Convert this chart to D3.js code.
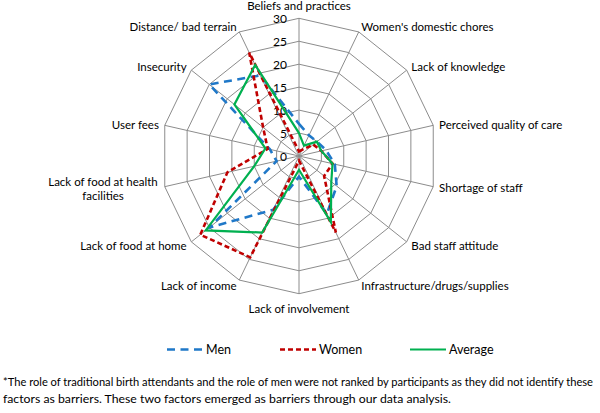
<!DOCTYPE html>
<html>
<head>
<meta charset="utf-8">
<script src="https://cdnjs.cloudflare.com/ajax/libs/d3/7.8.5/d3.min.js"></script>
<style>
  html, body { margin: 0; padding: 0; background: #fff; }
  svg { display: block; }
  text { font-family: Lato, "Noto Sans", sans-serif; fill: #000; }
</style>
</head>
<body>
<svg id="chart" width="600" height="413"></svg>
<script>
const categories = [
  "Beliefs and practices", "Women's domestic chores", "Lack of knowledge",
  "Perceived quality of care", "Shortage of staff", "Bad staff attitude",
  "Infrastructure/drugs/supplies", "Lack of involvement", "Lack of income",
  "Lack of food at home", "Lack of food at health facilities", "User fees",
  "Insecurity", "Distance/ bad terrain"
];
const men     = [7, 5, 5, 6, 8, 10.5, 14, 4.5, 13, 25, 5, 6.5, 25, 19.5];
const women   = [1, 1.5, 4, 5, 7.5, 7, 18.5, 1, 24.5, 27.5, 16, 7, 10, 25];
const average = [5, 2.5, 5, 5, 7.5, 9, 16, 3, 18.5, 26, 10, 7.5, 18, 22];
const tickValues = [0, 5, 10, 15, 20, 25, 30];
const seriesNames = ["Men", "Women", "Average"];
const footnote = [
  "*The role of traditional birth attendants and the role of men were not ranked by participants as they did not identify these",
  "factors as barriers. These two factors emerged as barriers through our data analysis."
];

const svg = d3.select("#chart");
const cx = 299, cy = 156, R = 137.7;
const n = categories.length;
const r = d3.scaleLinear().domain([0, 30]).range([0, R]);
const angle = d3.scaleLinear().domain([0, n]).range([0, 2 * Math.PI]);
const pt = (i, v) => [cx + r(v) * Math.sin(angle(i)), cy - r(v) * Math.cos(angle(i))];

const grid = svg.append("g").attr("stroke", "#8c8c8c").attr("stroke-width", 1).attr("fill", "none");
tickValues.slice(1).forEach(t => {
  grid.append("path").attr("d", d3.line()(d3.range(n).map(i => pt(i, t))) + "Z");
});
d3.range(n).forEach(i => {
  const p = pt(i, 30);
  grid.append("line").attr("x1", cx).attr("y1", cy).attr("x2", p[0]).attr("y2", p[1]);
});

// tick labels
svg.append("g").selectAll("text").data(tickValues).join("text")
  .attr("x", cx - 12).attr("y", d => cy - r(d) + 0.5)
  .attr("text-anchor", "end").attr("dominant-baseline", "central")
  .attr("font-size", 12).text(d => d);

// category labels
const lab = svg.append("g").attr("font-size", 11.5);
categories.forEach((c, i) => {
  const a = angle(i);
  const [vx, vy] = pt(i, 30);
  const s = Math.sin(a), co = Math.cos(a);
  if (Math.abs(s) < 1e-6) {
    lab.append("text").attr("x", vx).attr("y", co > 0 ? 5.5 : vy + 14.5)
      .attr("text-anchor", "middle").attr("dominant-baseline", "central").text(c);
  } else if (i === 10) {
    const words = ["Lack of food at health", "facilities"];
    const xEnd = vx - 7;
    const t1 = lab.append("text").attr("x", xEnd).attr("y", vy - 5)
      .attr("text-anchor", "end").attr("dominant-baseline", "central").text(words[0]);
    const w = t1.node().getComputedTextLength();
    lab.append("text").attr("x", xEnd - w / 2).attr("y", vy + 9)
      .attr("text-anchor", "middle").attr("dominant-baseline", "central").text(words[1]);
  } else {
    lab.append("text").attr("x", vx + s * 6).attr("y", vy - co * 6)
      .attr("text-anchor", s > 0 ? "start" : "end").attr("dominant-baseline", "central").text(c);
  }
});

// series
const series = [
  { name: seriesNames[0], values: men, color: "#1f78c8", dash: "8,5.5", width: 2.6 },
  { name: seriesNames[1], values: women, color: "#c00000", dash: "5,3", width: 2.6 },
  { name: seriesNames[2], values: average, color: "#00b050", dash: null, width: 2.2 }
];
const radial = d3.lineRadial()
  .angle((d, i) => angle(i))
  .radius(d => r(d))
  .curve(d3.curveLinearClosed);
const sg = svg.append("g").attr("transform", `translate(${cx},${cy})`);
series.forEach(s => {
  sg.append("path").datum(s.values).attr("d", radial)
    .attr("fill", "none").attr("stroke", s.color).attr("stroke-width", s.width)
    .attr("stroke-dasharray", s.dash).attr("stroke-linejoin", "miter");
});

// legend
const legendX = [167, 280, 410];
const lg = svg.append("g").attr("font-size", 12.5);
series.forEach((s, k) => {
  const x0 = legendX[k], y0 = 349.5;
  lg.append("line").attr("x1", x0).attr("x2", x0 + 36).attr("y1", y0).attr("y2", y0)
    .attr("stroke", s.color).attr("stroke-width", s.width).attr("stroke-dasharray", s.dash);
  lg.append("text").attr("x", x0 + 39).attr("y", y0).attr("dominant-baseline", "central").text(s.name);
});

// footnote
const fnWidths = [590, 448];
svg.append("g").attr("font-size", 11.2).selectAll("text").data(footnote).join("text")
  .attr("x", 3).attr("y", (d, i) => 386 + i * 17)
  .attr("textLength", (d, i) => fnWidths[i]).attr("lengthAdjust", "spacingAndGlyphs")
  .text(d => d);
</script>
</body>
</html>
